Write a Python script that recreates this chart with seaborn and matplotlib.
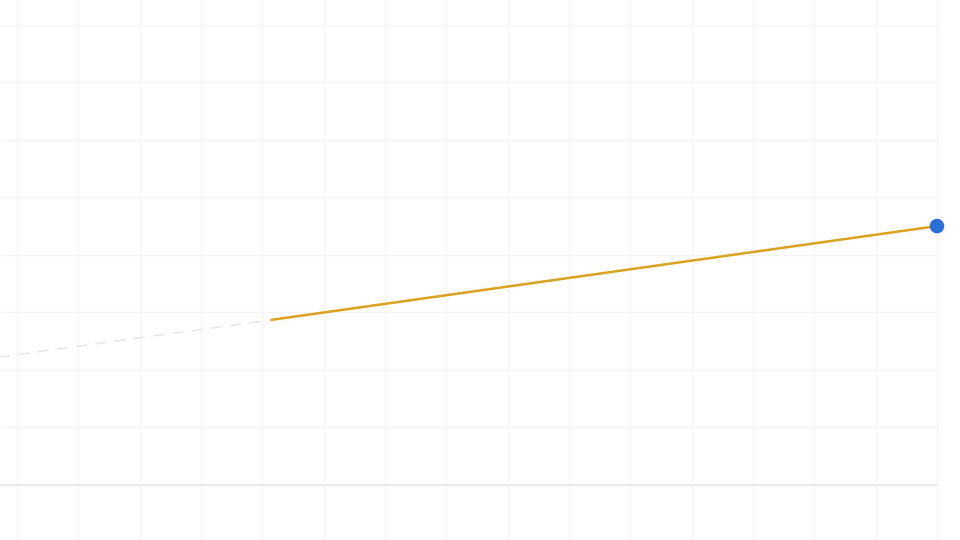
import matplotlib
matplotlib.use("Agg")
import matplotlib.pyplot as plt
import seaborn as sns

# Data
proj_x = [-1.0, 4.15]          # faint dashed projection
proj_y = [2.12, 2.87]
series_x = [4.15, 15.0]        # solid gold series
series_y = [2.87, 4.50]
end_x = [15.0]                 # highlighted last point
end_y = [4.50]
x_ticks = list(range(0, 16))
y_ticks = list(range(0, 9))

sns.set_theme(style="white")
fig = plt.figure(figsize=(9.6, 5.4), dpi=100)
ax = fig.add_axes([0, 0, 1, 1])
fig.patch.set_facecolor("white")
ax.set_facecolor("white")

XMIN, XMAX = -0.277, 15.375

sns.lineplot(x=proj_x, y=proj_y, ax=ax, color="#e4e4e4", linewidth=1.0,
             linestyle=(0, (8, 6)), zorder=2)
sns.lineplot(x=series_x, y=series_y, ax=ax, color="#d9a21f", linewidth=1.8,
             zorder=3)
sns.scatterplot(x=end_x, y=end_y, ax=ax, color="#2b6fd6", s=110,
                edgecolor="none", zorder=4, clip_on=False)

ax.set_xlim(XMIN, XMAX)
ax.set_ylim(-0.957, 8.43)
ax.set_xticks(x_ticks)
ax.set_yticks(y_ticks)
ax.grid(True, axis="x", color="#f5f5f5", linewidth=1.0, zorder=0)
ax.hlines(y_ticks[1:], XMIN, x_ticks[-1], color="#f5f5f5", linewidth=1.0, zorder=0)
ax.hlines([y_ticks[0]], XMIN, x_ticks[-1], color="#e8e8e8", linewidth=1.2, zorder=1)
ax.set_axisbelow(True)
ax.tick_params(left=False, bottom=False, labelleft=False, labelbottom=False)
for s in ax.spines.values():
    s.set_visible(False)

fig.savefig("out.png", dpi=100, facecolor="white")
